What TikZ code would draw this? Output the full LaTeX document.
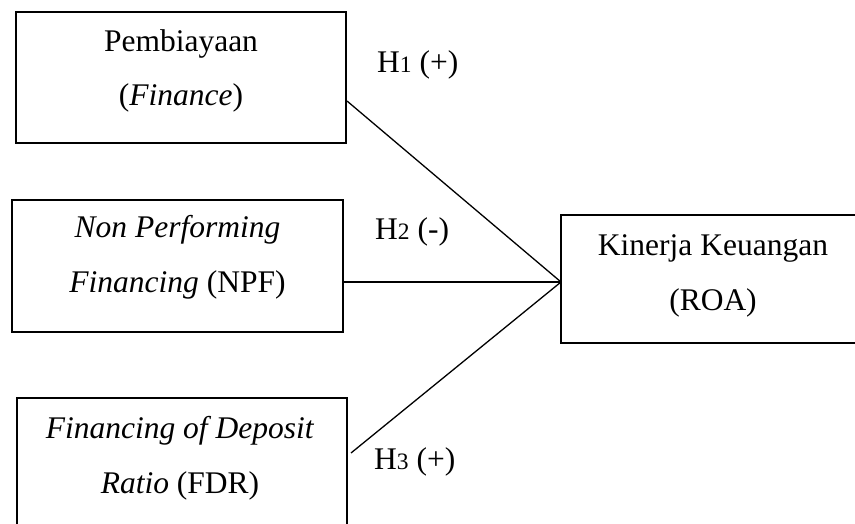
\documentclass[tikz,border=0pt]{standalone}
\usepackage{fontspec}
\setmainfont{Liberation Serif}
\begin{document}
\begin{tikzpicture}[x=1pt,y=-1pt,
  box/.style={draw=black, line width=1.6pt, rectangle, inner sep=0pt},
  txt/.style={font=\fontsize{31.5}{38}\selectfont, inner sep=0pt, anchor=base},
  hyp/.style={font=\fontsize{31.5}{38}\selectfont, inner sep=0pt, anchor=base west},
  conn/.style={draw=black, line width=1.3pt}]
\useasboundingbox (0,0) rectangle (855,524);
\clip (0,0) rectangle (855,524);
% boxes
\node[box, minimum width=330pt, minimum height=131pt] (b1) at (181,77.5) {};
\node[box, minimum width=331pt, minimum height=132pt] (b2) at (177.5,266) {};
\node[box, minimum width=330pt, minimum height=132pt] (b3) at (182,464) {};
\node[box, minimum width=305pt, minimum height=128pt] (b4) at (713.5,279) {};
% box texts
\node[txt] (t1a) at (181,52) {Pembiayaan};
\node[txt] (t1b) at (181,106) {(\textit{Finance})};
\node[txt] (t2a) at (177.5,238) {\textit{Non Performing}};
\node[txt] (t2b) at (177.5,292) {\textit{Financing} (NPF)};
\node[txt] (t3a) at (180,438) {\textit{Financing of Deposit}};
\node[txt] (t3b) at (180,493) {\textit{Ratio} (FDR)};
\node[txt] (t4a) at (713,255) {Kinerja Keuangan};
\node[txt] (t4b) at (713,310) {(ROA)};
% connector points
\coordinate (s1) at (347,101);
\coordinate (s2) at (343,282);
\coordinate (s3) at (351,453);
\coordinate (j) at (561,282);
\draw[conn] (s1) -- (j);
\draw[conn] (s2) -- (j);
\draw[conn] (s3) -- (j);
% hypothesis labels
\node[hyp] (h1) at (377,73) {H{\fontsize{23.5}{27}\selectfont 1} (+)};
\node[hyp] (h2) at (375,240) {H{\fontsize{23.5}{27}\selectfont 2} (-)};
\node[hyp] (h3) at (374,469) {H{\fontsize{23.5}{27}\selectfont 3} (+)};
\end{tikzpicture}
\end{document}
